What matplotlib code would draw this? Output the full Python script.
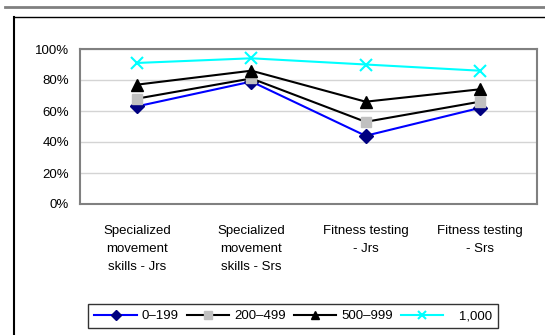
import numpy as np
import matplotlib.pyplot as plt
from matplotlib.lines import Line2D
from matplotlib.ticker import PercentFormatter

plt.rcParams['font.family'] = ['Liberation Sans', 'DejaVu Sans']

categories = ["Specialized\nmovement\nskills - Jrs", "Specialized\nmovement\nskills - Srs",
              "Fitness testing\n- Jrs", "Fitness testing\n- Srs"]
series_names = ["0\u2013199", "200\u2013499", "500\u2013999", "1,000"]
vals_0_199 = [63, 79, 44, 62]
vals_200_499 = [68, 81, 53, 66]
vals_500_999 = [77, 86, 66, 74]
vals_1000 = [91, 94, 90, 86]

W, H = 545, 335
fig = plt.figure(figsize=(W / 100, H / 100), dpi=100)

# frame lines around the chart
fig.add_artist(Line2D([5 / W, 1], [1 - 7 / H, 1 - 7 / H], color='#808080', lw=2))
fig.add_artist(Line2D([14 / W, 1], [1 - 17 / H, 1 - 17 / H], color='black', lw=1))
fig.add_artist(Line2D([14 / W, 14 / W], [0, 1 - 17 / H], color='black', lw=1.5))

ax = fig.add_axes([80 / W, (H - 204) / H, 457 / W, 155 / H])
x = np.arange(len(categories))

styles = [
    dict(color='#0000FF', marker='D', mfc='#000080', mec='#000080', ms=7),
    dict(color='black', marker='s', mfc='#C0C0C0', mec='#C0C0C0', ms=7),
    dict(color='black', marker='^', mfc='black', mec='black', ms=8.5),
    dict(color='#00FFFF', marker='x', mfc='#00FFFF', mec='#00FFFF', ms=8, mew=1.5),
]
all_vals = [vals_0_199, vals_200_499, vals_500_999, vals_1000]
handles = []
for name, vals, st in zip(series_names, all_vals, styles):
    h, = ax.plot(x, vals, lw=1.5, label=name, **st)
    handles.append(h)

ax.set_xlim(-0.5, len(categories) - 0.5)
ax.set_ylim(0, 100)
ax.set_yticks(range(0, 101, 20))
ax.yaxis.set_major_formatter(PercentFormatter(decimals=0))
ax.set_xticks(x)
ax.set_xticklabels(categories, fontsize=9.5, linespacing=1.65, va='top')
ax.tick_params(axis='both', length=0, labelsize=9.5, colors='black')
ax.tick_params(axis='x', pad=15)
ax.tick_params(axis='y', pad=8)
ax.grid(axis='y', color='#D4D4D4', lw=1)
ax.set_axisbelow(True)
for s in ax.spines.values():
    s.set_color('#808080')
    s.set_linewidth(1.5)

leg_labels = series_names[:3] + ["   " + series_names[3]]
leg = fig.legend(handles, leg_labels, ncol=4, loc='center',
                 bbox_to_anchor=((89 + 498) / 2 / W, 1 - 316 / H),
                 fontsize=9.5, frameon=True, fancybox=False, edgecolor='black',
                 handlelength=3.2, columnspacing=0.6, handletextpad=0.4,
                 borderpad=0.45, markerscale=0.75)
leg.get_frame().set_linewidth(1)

fig.savefig("out.png", dpi=100)
